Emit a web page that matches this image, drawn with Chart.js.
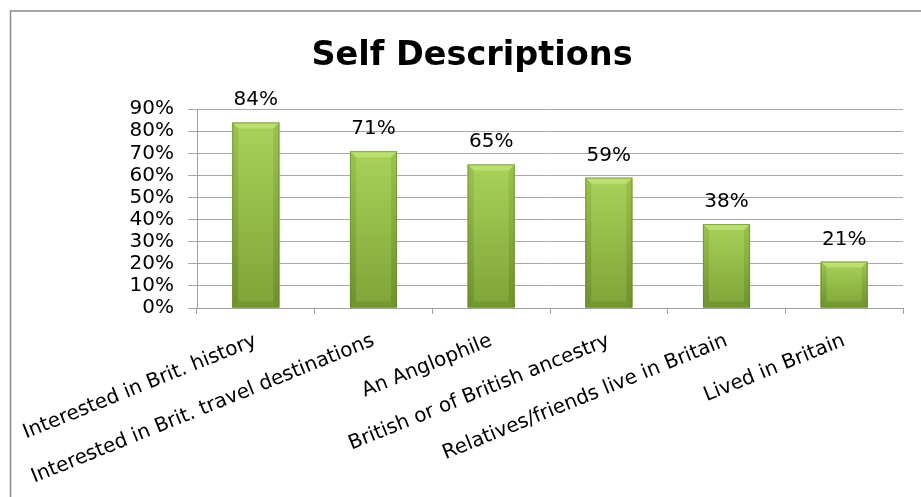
<!DOCTYPE html>
<html>
<head>
<meta charset="utf-8">
<title>Self Descriptions</title>
<script src="https://cdn.jsdelivr.net/npm/chart.js@4.4.1/dist/chart.umd.min.js"></script>
<style>
  html, body { margin: 0; padding: 0; background: #ffffff; }
  #wrap { position: relative; width: 921px; height: 497px; }
</style>
</head>
<body>
<div id="wrap"><canvas id="chart" width="921" height="497"></canvas></div>
<script>
// Survey answers: share of respondents choosing each self description
const categories = [
  'Interested in Brit. history',
  'Interested in Brit. travel destinations',
  'An Anglophile',
  'British or of British ancestry',
  'Relatives/friends live in Britain',
  'Lived in Britain'
];
const percentages = [84, 71, 65, 59, 38, 21];
const titleText = 'Self Descriptions';
const axisMax = 90;
const axisStep = 10;

const FONT = "'DejaVu Sans', sans-serif";

// Grey frame along the top and left edges of the picture
const framePlugin = {
  id: 'frame',
  beforeDraw(chart) {
    const ctx = chart.ctx;
    ctx.save();
    ctx.strokeStyle = '#8a8a8a';
    ctx.lineWidth = 1.5;
    ctx.beginPath();
    ctx.moveTo(10.5, chart.height);
    ctx.lineTo(10.5, 11);
    ctx.lineTo(chart.width, 11);
    ctx.stroke();
    ctx.restore();
  }
};

// Bevelled, shaded look for each column, then its value label above it
const bevelPlugin = {
  id: 'bevel',
  afterDatasetsDraw(chart) {
    const ctx = chart.ctx;
    const meta = chart.getDatasetMeta(0);
    ctx.save();
    meta.data.forEach((bar, i) => {
      const w = bar.width;
      const l = bar.x - w / 2, r = bar.x + w / 2;
      const t = bar.y, b = bar.base;
      const bv = 6;

      const g = ctx.createLinearGradient(0, t, 0, b);
      g.addColorStop(0, '#a8d259');
      g.addColorStop(1, '#7fa438');
      ctx.fillStyle = g;
      ctx.fillRect(l, t, w, b - t);

      // top bevel
      ctx.fillStyle = 'rgba(210,238,140,0.5)';
      ctx.beginPath();
      ctx.moveTo(l, t); ctx.lineTo(r, t); ctx.lineTo(r - bv, t + bv); ctx.lineTo(l + bv, t + bv);
      ctx.closePath(); ctx.fill();
      // side bevels
      const sg = ctx.createLinearGradient(0, t, 0, b);
      sg.addColorStop(0, 'rgba(120,160,50,0.3)');
      sg.addColorStop(1, 'rgba(80,110,25,0.35)');
      ctx.fillStyle = sg;
      ctx.beginPath();
      ctx.moveTo(l, t); ctx.lineTo(l + bv, t + bv); ctx.lineTo(l + bv, b - bv); ctx.lineTo(l, b);
      ctx.closePath(); ctx.fill();
      ctx.beginPath();
      ctx.moveTo(r, t); ctx.lineTo(r - bv, t + bv); ctx.lineTo(r - bv, b - bv); ctx.lineTo(r, b);
      ctx.closePath(); ctx.fill();
      // bottom bevel
      ctx.fillStyle = 'rgba(80,110,25,0.25)';
      ctx.beginPath();
      ctx.moveTo(l, b); ctx.lineTo(r, b); ctx.lineTo(r - bv, b - bv); ctx.lineTo(l + bv, b - bv);
      ctx.closePath(); ctx.fill();
      // outline
      ctx.strokeStyle = 'rgba(100,130,45,0.6)';
      ctx.lineWidth = 1;
      ctx.strokeRect(l + 0.5, t + 0.5, w - 1, b - t - 1);

      // value label
      ctx.fillStyle = '#000000';
      ctx.font = '20px ' + FONT;
      ctx.textAlign = 'center';
      ctx.textBaseline = 'alphabetic';
      ctx.fillText(percentages[i] + '%', bar.x, t - 17);
    });
    ctx.restore();
  }
};

new Chart(document.getElementById('chart'), {
  type: 'bar',
  data: {
    labels: categories,
    datasets: [{
      data: percentages,
      backgroundColor: '#8fbb45',
      borderWidth: 0,
      barPercentage: 0.4,
      categoryPercentage: 1.0
    }]
  },
  options: {
    responsive: false,
    animation: false,
    events: [],
    layout: { padding: { left: 41, right: 18, top: 0, bottom: 0 } },
    plugins: {
      legend: { display: false },
      tooltip: { enabled: false },
      title: {
        display: true,
        text: titleText,
        color: '#000000',
        font: { family: FONT, size: 33.5, weight: 'bold' },
        padding: { top: 36, bottom: 33 }
      }
    },
    scales: {
      x: {
        offset: true,
        afterFit(scale) {
          scale.height = 189;
          scale.paddingLeft = 0;
          scale.paddingRight = 0;
        },
        grid: { display: true, drawOnChartArea: false, color: '#a0a0a0', tickLength: 6 },
        border: { color: '#a0a0a0' },
        ticks: {
          color: '#000000',
          font: { family: FONT, size: 20 },
          minRotation: 22,
          maxRotation: 22,
          autoSkip: false,
          padding: 15
        }
      },
      y: {
        min: 0,
        max: axisMax,
        afterFit(scale) { scale.width = 156; },
        grid: { color: '#a8a8a8', tickLength: 9 },
        border: { color: '#a0a0a0' },
        ticks: {
          stepSize: axisStep,
          autoSkip: false,
          color: '#000000',
          font: { family: FONT, size: 20 },
          padding: 14,
          callback: v => v + '%'
        }
      }
    }
  },
  plugins: [framePlugin, bevelPlugin]
});
</script>
</body>
</html>
